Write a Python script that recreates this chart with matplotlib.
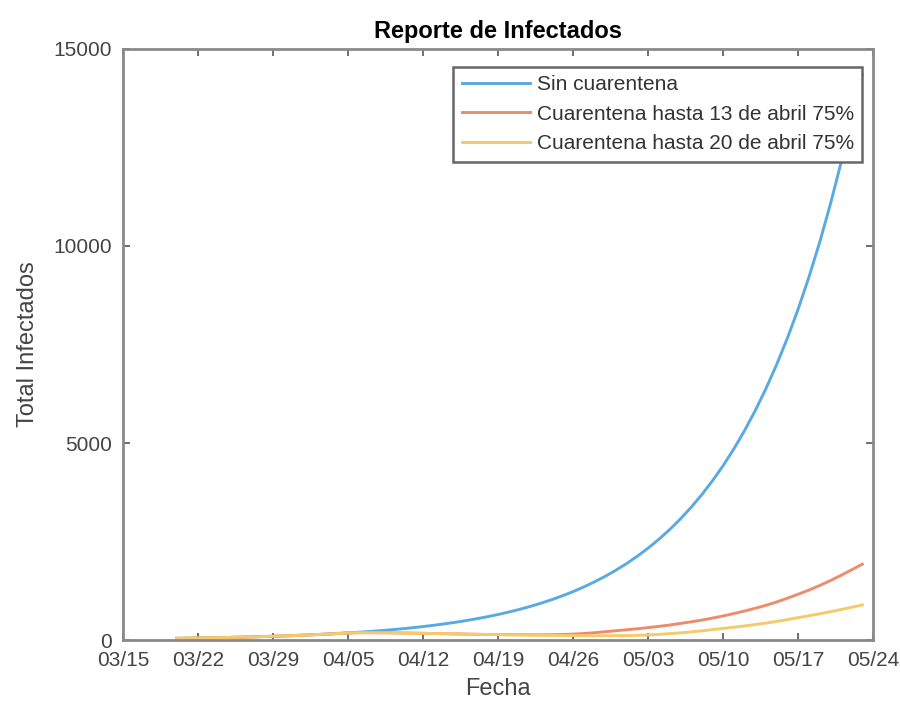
import numpy as np
import pandas as pd
import matplotlib
matplotlib.use("Agg")
import matplotlib.pyplot as plt
import matplotlib.dates as mdates

# daily totals, 03/20 .. 05/23
start_date = "2020-03-20"
sin_cuarentena = [
    42, 46, 50, 55, 60, 66, 72, 79, 87, 95,
    104, 114, 125, 137, 150, 164, 180, 197, 216, 237,
    259, 284, 311, 341, 374, 410, 449, 492, 539, 591,
    647, 709, 777, 852, 933, 1023, 1121, 1228, 1346, 1475,
    1616, 1771, 1940, 2126, 2330, 2553, 2798, 3066, 3360, 3682,
    4035, 4421, 4845, 5309, 5818, 6375, 6986, 7655, 8389, 9193,
    10073, 11038, 12096, 13255, 14350,
]
hasta_13_abril = [
    42, 46, 50, 55, 60, 66, 72, 79, 87, 95,
    104, 114, 125, 137, 150, 164, 180, 185, 186, 185,
    182, 178, 174, 170, 165, 160, 155, 150, 145, 141,
    138, 136, 135, 134, 134, 136, 141, 150, 165, 185,
    210, 235, 260, 285, 315, 345, 380, 420, 460, 505,
    555, 610, 670, 735, 805, 880, 965, 1060, 1160, 1265,
    1380, 1505, 1640, 1780, 1925,
]
hasta_20_abril = [
    42, 46, 50, 55, 60, 66, 72, 79, 87, 95,
    104, 114, 125, 137, 150, 164, 180, 185, 186, 185,
    182, 178, 174, 170, 165, 160, 155, 150, 145, 140,
    136, 132, 128, 124, 120, 117, 114, 112, 110, 109,
    109, 110, 112, 118, 127, 143, 161, 181, 205, 232,
    262, 295, 325, 357, 392, 430, 472, 518, 567, 615,
    665, 717, 772, 830, 890,
]
labels = [
    "Sin cuarentena",
    "Cuarentena hasta 13 de abril 75%",
    "Cuarentena hasta 20 de abril 75%",
]
colors = ["#5aaae2", "#ee8b6c", "#f4ca6a"]
x_ticks = pd.date_range("2020-03-15", "2020-05-24", freq="7D")
y_ticks = [0, 5000, 10000, 15000]

dates = pd.date_range(start_date, periods=len(sin_cuarentena), freq="D")

plt.rcParams["font.family"] = ["Liberation Sans", "DejaVu Sans"]

fig = plt.figure(figsize=(9, 7.09), dpi=100)
ax = fig.add_axes([0.1367, 0.0973, 0.8333, 0.8336])

for series, lab, col in zip([sin_cuarentena, hasta_13_abril, hasta_20_abril], labels, colors):
    ax.plot(dates, series, color=col, linewidth=2.1, label=lab)

ax.set_xlim(x_ticks[0], x_ticks[-1])
ax.set_ylim(0, 15000)
ax.set_xticks(x_ticks)
ax.xaxis.set_major_formatter(mdates.DateFormatter("%m/%d"))
ax.set_yticks(y_ticks)

for sp in ax.spines.values():
    sp.set_color("#8a8a8a")
    sp.set_linewidth(2)
ax.tick_params(direction="in", length=5, width=1.2, color="#555555",
               labelcolor="#444444", labelsize=15, top=True, right=True, pad=8)

ax.set_title("Reporte de Infectados", fontsize=17, fontweight="bold", pad=8)
ax.set_xlabel("Fecha", fontsize=17, color="#444444", labelpad=6)
ax.set_ylabel("Total Infectados", fontsize=17, color="#444444", labelpad=10)

leg = ax.legend(loc="upper right", bbox_to_anchor=(0.9853, 0.9695), borderaxespad=0,
                fontsize=15, handlelength=3.3, labelspacing=0.5, handletextpad=0.3,
                borderpad=0.4, fancybox=False, framealpha=1)
leg.get_frame().set_edgecolor("#666666")
leg.get_frame().set_linewidth(1.8)
for t in leg.get_texts():
    t.set_color("#333333")

fig.savefig("out.png", dpi=100)
